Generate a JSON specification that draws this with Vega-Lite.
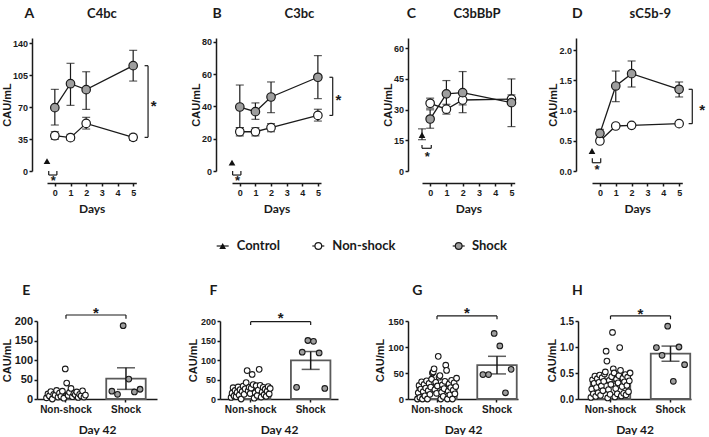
{
"$schema": "https://vega.github.io/schema/vega-lite/v6.json",
"padding": {"left": 1, "top": 6, "right": 0, "bottom": 0},
"background": "white",
"config": {
  "view": {"stroke": null},
  "font": "Liberation Sans",
  "axis": {"grid": false, "domainColor": "#1a1a1a", "domainWidth": 1.5, "tickColor": "#1a1a1a", "tickWidth": 1.5, "tickSize": 3,
           "labelFont": "Liberation Sans", "labelFontWeight": "bold", "labelColor": "#1a1a1a", "labelPadding": 1.5, "labelFlush": false, "labelOverlap": false,
           "titleFont": "Liberation Sans", "titleFontWeight": "bold", "titleColor": "#1a1a1a", "titleFontSize": 11},
  "axisY": {"titlePadding": 2},
  "text": {"color": "#1a1a1a"}
},
"datasets": {
  "series": [
    {"panel":"A","group":"Non-shock","day":0,"mean":38.6,"lo":34.6,"hi":43},
    {"panel":"A","group":"Non-shock","day":1,"mean":36.5,"lo":33.5,"hi":40.1},
    {"panel":"A","group":"Non-shock","day":2,"mean":52.1,"lo":45.9,"hi":58.7},
    {"panel":"A","group":"Non-shock","day":5,"mean":36.8,"lo":33.5,"hi":40.1},
    {"panel":"A","group":"Shock","day":0,"mean":69.3,"lo":50.3,"hi":89.3},
    {"panel":"A","group":"Shock","day":1,"mean":95.5,"lo":71.8,"hi":117.8},
    {"panel":"A","group":"Shock","day":2,"mean":89,"lo":67.4,"hi":108.6},
    {"panel":"A","group":"Shock","day":5,"mean":115.2,"lo":98.4,"hi":132},
    {"panel":"B","group":"Non-shock","day":0,"mean":24.3,"lo":21.7,"hi":26.8},
    {"panel":"B","group":"Non-shock","day":1,"mean":24.3,"lo":21.7,"hi":26.8},
    {"panel":"B","group":"Non-shock","day":2,"mean":26.8,"lo":24.3,"hi":29.3},
    {"panel":"B","group":"Non-shock","day":5,"mean":34.4,"lo":30.9,"hi":38.2},
    {"panel":"B","group":"Shock","day":0,"mean":39.6,"lo":26.8,"hi":53.2},
    {"panel":"B","group":"Shock","day":1,"mean":36.7,"lo":32,"hi":42.1},
    {"panel":"B","group":"Shock","day":2,"mean":45.8,"lo":36.1,"hi":55.1},
    {"panel":"B","group":"Shock","day":5,"mean":58,"lo":44.8,"hi":71.4},
    {"panel":"C","group":"Non-shock","day":0,"mean":33.1,"lo":30.7,"hi":35.6},
    {"panel":"C","group":"Non-shock","day":1,"mean":30.2,"lo":27.8,"hi":32.6},
    {"panel":"C","group":"Non-shock","day":2,"mean":34.7,"lo":32.3,"hi":37.2},
    {"panel":"C","group":"Non-shock","day":5,"mean":35.1,"lo":33.1,"hi":37.2},
    {"panel":"C","group":"Shock","day":0,"mean":25.4,"lo":20.9,"hi":29.9},
    {"panel":"C","group":"Shock","day":1,"mean":37.7,"lo":31,"hi":44.2},
    {"panel":"C","group":"Shock","day":2,"mean":38.3,"lo":28.5,"hi":48.6},
    {"panel":"C","group":"Shock","day":5,"mean":33.4,"lo":21.7,"hi":45},
    {"panel":"D","group":"Non-shock","day":0,"mean":0.497,"lo":0.475,"hi":0.52},
    {"panel":"D","group":"Non-shock","day":1,"mean":0.746,"lo":0.725,"hi":0.765},
    {"panel":"D","group":"Non-shock","day":2,"mean":0.757,"lo":0.74,"hi":0.775},
    {"panel":"D","group":"Non-shock","day":5,"mean":0.785,"lo":0.77,"hi":0.8},
    {"panel":"D","group":"Shock","day":0,"mean":0.624,"lo":0.55,"hi":0.69},
    {"panel":"D","group":"Shock","day":1,"mean":1.409,"lo":1.149,"hi":1.657},
    {"panel":"D","group":"Shock","day":2,"mean":1.613,"lo":1.392,"hi":1.823},
    {"panel":"D","group":"Shock","day":5,"mean":1.354,"lo":1.227,"hi":1.475}
  ],
  "control": [
    {"panel":"A","mean":10.9,"lo":10.9,"hi":10.9},
    {"panel":"B","mean":5.2,"lo":5.2,"hi":5.2},
    {"panel":"C","mean":17.6,"lo":15.3,"hi":20.6},
    {"panel":"D","mean":0.331,"lo":0.331,"hi":0.331}
  ],
  "day42": [
    {"panel":"E","group":"Non-shock","id":1,"value":3},{"panel":"E","group":"Non-shock","id":2,"value":13},{"panel":"E","group":"Non-shock","id":3,"value":8},{"panel":"E","group":"Non-shock","id":4,"value":19},
    {"panel":"E","group":"Non-shock","id":5,"value":0},{"panel":"E","group":"Non-shock","id":6,"value":12},{"panel":"E","group":"Non-shock","id":7,"value":10},{"panel":"E","group":"Non-shock","id":8,"value":22},
    {"panel":"E","group":"Non-shock","id":9,"value":5},{"panel":"E","group":"Non-shock","id":10,"value":15},{"panel":"E","group":"Non-shock","id":11,"value":7},{"panel":"E","group":"Non-shock","id":12,"value":20},
    {"panel":"E","group":"Non-shock","id":13,"value":2},{"panel":"E","group":"Non-shock","id":14,"value":77},{"panel":"E","group":"Non-shock","id":15,"value":41},{"panel":"E","group":"Non-shock","id":16,"value":9},
    {"panel":"E","group":"Non-shock","id":17,"value":17},{"panel":"E","group":"Non-shock","id":18,"value":27},{"panel":"E","group":"Non-shock","id":19,"value":6},{"panel":"E","group":"Non-shock","id":20,"value":14},
    {"panel":"E","group":"Non-shock","id":21,"value":11},{"panel":"E","group":"Non-shock","id":22,"value":18},{"panel":"E","group":"Non-shock","id":23,"value":4},{"panel":"E","group":"Non-shock","id":24,"value":12},
    {"panel":"E","group":"Non-shock","id":25,"value":8},{"panel":"E","group":"Non-shock","id":26,"value":21},{"panel":"E","group":"Non-shock","id":27,"value":5},{"panel":"E","group":"Non-shock","id":28,"value":10},
    {"panel":"E","group":"Shock","id":1,"value":20},{"panel":"E","group":"Shock","id":2,"value":12},{"panel":"E","group":"Shock","id":3,"value":188},{"panel":"E","group":"Shock","id":4,"value":51},{"panel":"E","group":"Shock","id":5,"value":18},{"panel":"E","group":"Shock","id":6,"value":25},
    {"panel":"F","group":"Non-shock","id":1,"value":4},{"panel":"F","group":"Non-shock","id":2,"value":15},{"panel":"F","group":"Non-shock","id":3,"value":29},{"panel":"F","group":"Non-shock","id":4,"value":8},
    {"panel":"F","group":"Non-shock","id":5,"value":22},{"panel":"F","group":"Non-shock","id":6,"value":6},{"panel":"F","group":"Non-shock","id":7,"value":17},{"panel":"F","group":"Non-shock","id":8,"value":31},
    {"panel":"F","group":"Non-shock","id":9,"value":10},{"panel":"F","group":"Non-shock","id":10,"value":24},{"panel":"F","group":"Non-shock","id":11,"value":0},{"panel":"F","group":"Non-shock","id":12,"value":19},
    {"panel":"F","group":"Non-shock","id":13,"value":33},{"panel":"F","group":"Non-shock","id":14,"value":12},{"panel":"F","group":"Non-shock","id":15,"value":26},{"panel":"F","group":"Non-shock","id":16,"value":42},
    {"panel":"F","group":"Non-shock","id":17,"value":73},{"panel":"F","group":"Non-shock","id":18,"value":21},{"panel":"F","group":"Non-shock","id":19,"value":30},{"panel":"F","group":"Non-shock","id":20,"value":14},
    {"panel":"F","group":"Non-shock","id":21,"value":28},{"panel":"F","group":"Non-shock","id":22,"value":63},{"panel":"F","group":"Non-shock","id":23,"value":37},{"panel":"F","group":"Non-shock","id":24,"value":2},
    {"panel":"F","group":"Non-shock","id":25,"value":16},{"panel":"F","group":"Non-shock","id":26,"value":34},{"panel":"F","group":"Non-shock","id":27,"value":9},{"panel":"F","group":"Non-shock","id":28,"value":23},
    {"panel":"F","group":"Non-shock","id":29,"value":76},{"panel":"F","group":"Non-shock","id":30,"value":35},{"panel":"F","group":"Non-shock","id":31,"value":5},{"panel":"F","group":"Non-shock","id":32,"value":18},
    {"panel":"F","group":"Non-shock","id":33,"value":30},{"panel":"F","group":"Non-shock","id":34,"value":11},{"panel":"F","group":"Non-shock","id":35,"value":25},{"panel":"F","group":"Non-shock","id":36,"value":7},
    {"panel":"F","group":"Non-shock","id":37,"value":20},{"panel":"F","group":"Non-shock","id":38,"value":32},{"panel":"F","group":"Non-shock","id":39,"value":13},{"panel":"F","group":"Non-shock","id":40,"value":27},
    {"panel":"F","group":"Shock","id":1,"value":30},{"panel":"F","group":"Shock","id":2,"value":120},{"panel":"F","group":"Shock","id":3,"value":150},{"panel":"F","group":"Shock","id":4,"value":148},{"panel":"F","group":"Shock","id":5,"value":118},{"panel":"F","group":"Shock","id":6,"value":27},
    {"panel":"G","group":"Non-shock","id":1,"value":0},{"panel":"G","group":"Non-shock","id":2,"value":12},{"panel":"G","group":"Non-shock","id":3,"value":26},{"panel":"G","group":"Non-shock","id":4,"value":3},
    {"panel":"G","group":"Non-shock","id":5,"value":19},{"panel":"G","group":"Non-shock","id":6,"value":33},{"panel":"G","group":"Non-shock","id":7,"value":0},{"panel":"G","group":"Non-shock","id":8,"value":14},
    {"panel":"G","group":"Non-shock","id":9,"value":28},{"panel":"G","group":"Non-shock","id":10,"value":6},{"panel":"G","group":"Non-shock","id":11,"value":21},{"panel":"G","group":"Non-shock","id":12,"value":35},
    {"panel":"G","group":"Non-shock","id":13,"value":0},{"panel":"G","group":"Non-shock","id":14,"value":16},{"panel":"G","group":"Non-shock","id":15,"value":30},{"panel":"G","group":"Non-shock","id":16,"value":9},
    {"panel":"G","group":"Non-shock","id":17,"value":23},{"panel":"G","group":"Non-shock","id":18,"value":38},{"panel":"G","group":"Non-shock","id":19,"value":50},{"panel":"G","group":"Non-shock","id":20,"value":52},
    {"panel":"G","group":"Non-shock","id":21,"value":58},{"panel":"G","group":"Non-shock","id":22,"value":18},{"panel":"G","group":"Non-shock","id":23,"value":32},{"panel":"G","group":"Non-shock","id":24,"value":11},
    {"panel":"G","group":"Non-shock","id":25,"value":25},{"panel":"G","group":"Non-shock","id":26,"value":82},{"panel":"G","group":"Non-shock","id":27,"value":42},{"panel":"G","group":"Non-shock","id":28,"value":45},
    {"panel":"G","group":"Non-shock","id":29,"value":0},{"panel":"G","group":"Non-shock","id":30,"value":13},{"panel":"G","group":"Non-shock","id":31,"value":27},{"panel":"G","group":"Non-shock","id":32,"value":5},
    {"panel":"G","group":"Non-shock","id":33,"value":20},{"panel":"G","group":"Non-shock","id":34,"value":34},{"panel":"G","group":"Non-shock","id":35,"value":65},{"panel":"G","group":"Non-shock","id":36,"value":55},
    {"panel":"G","group":"Non-shock","id":37,"value":0},{"panel":"G","group":"Non-shock","id":38,"value":15},{"panel":"G","group":"Non-shock","id":39,"value":29},{"panel":"G","group":"Non-shock","id":40,"value":8},
    {"panel":"G","group":"Non-shock","id":41,"value":22},{"panel":"G","group":"Non-shock","id":42,"value":36},{"panel":"G","group":"Non-shock","id":43,"value":0},{"panel":"G","group":"Non-shock","id":44,"value":17},
    {"panel":"G","group":"Non-shock","id":45,"value":31},{"panel":"G","group":"Non-shock","id":46,"value":10},{"panel":"G","group":"Non-shock","id":47,"value":24},{"panel":"G","group":"Non-shock","id":48,"value":40},
    {"panel":"G","group":"Shock","id":1,"value":47},{"panel":"G","group":"Shock","id":2,"value":47},{"panel":"G","group":"Shock","id":3,"value":126},{"panel":"G","group":"Shock","id":4,"value":102},{"panel":"G","group":"Shock","id":5,"value":12},{"panel":"G","group":"Shock","id":6,"value":57},
    {"panel":"H","group":"Non-shock","id":1,"value":0.03},{"panel":"H","group":"Non-shock","id":2,"value":0.19},{"panel":"H","group":"Non-shock","id":3,"value":0.37},{"panel":"H","group":"Non-shock","id":4,"value":0.10},
    {"panel":"H","group":"Non-shock","id":5,"value":0.30},{"panel":"H","group":"Non-shock","id":6,"value":0.44},{"panel":"H","group":"Non-shock","id":7,"value":0.05},{"panel":"H","group":"Non-shock","id":8,"value":0.22},
    {"panel":"H","group":"Non-shock","id":9,"value":0.39},{"panel":"H","group":"Non-shock","id":10,"value":0.12},{"panel":"H","group":"Non-shock","id":11,"value":0.32},{"panel":"H","group":"Non-shock","id":12,"value":0.46},
    {"panel":"H","group":"Non-shock","id":13,"value":0.07},{"panel":"H","group":"Non-shock","id":14,"value":0.25},{"panel":"H","group":"Non-shock","id":15,"value":0.41},{"panel":"H","group":"Non-shock","id":16,"value":0.16},
    {"panel":"H","group":"Non-shock","id":17,"value":0.34},{"panel":"H","group":"Non-shock","id":18,"value":0.48},{"panel":"H","group":"Non-shock","id":19,"value":0.52},{"panel":"H","group":"Non-shock","id":20,"value":0.92},
    {"panel":"H","group":"Non-shock","id":21,"value":0.73},{"panel":"H","group":"Non-shock","id":22,"value":0.02},{"panel":"H","group":"Non-shock","id":23,"value":0.18},{"panel":"H","group":"Non-shock","id":24,"value":0.36},
    {"panel":"H","group":"Non-shock","id":25,"value":0.09},{"panel":"H","group":"Non-shock","id":26,"value":0.28},{"panel":"H","group":"Non-shock","id":27,"value":0.43},{"panel":"H","group":"Non-shock","id":28,"value":1.28},
    {"panel":"H","group":"Non-shock","id":29,"value":0.58},{"panel":"H","group":"Non-shock","id":30,"value":0.50},{"panel":"H","group":"Non-shock","id":31,"value":0.04},{"panel":"H","group":"Non-shock","id":32,"value":0.20},
    {"panel":"H","group":"Non-shock","id":33,"value":0.38},{"panel":"H","group":"Non-shock","id":34,"value":0.10},{"panel":"H","group":"Non-shock","id":35,"value":0.31},{"panel":"H","group":"Non-shock","id":36,"value":0.45},
    {"panel":"H","group":"Non-shock","id":37,"value":0.99},{"panel":"H","group":"Non-shock","id":38,"value":0.55},{"panel":"H","group":"Non-shock","id":39,"value":0.06},{"panel":"H","group":"Non-shock","id":40,"value":0.24},
    {"panel":"H","group":"Non-shock","id":41,"value":0.40},{"panel":"H","group":"Non-shock","id":42,"value":0.11},{"panel":"H","group":"Non-shock","id":43,"value":0.33},{"panel":"H","group":"Non-shock","id":44,"value":0.47},
    {"panel":"H","group":"Non-shock","id":45,"value":0.08},{"panel":"H","group":"Non-shock","id":46,"value":0.26},{"panel":"H","group":"Non-shock","id":47,"value":0.42},{"panel":"H","group":"Non-shock","id":48,"value":0.14},
    {"panel":"H","group":"Non-shock","id":49,"value":0.35},{"panel":"H","group":"Non-shock","id":50,"value":0.50},
    {"panel":"H","group":"Shock","id":1,"value":0.99},{"panel":"H","group":"Shock","id":2,"value":0.84},{"panel":"H","group":"Shock","id":3,"value":1.40},{"panel":"H","group":"Shock","id":4,"value":0.34},{"panel":"H","group":"Shock","id":5,"value":1.00},{"panel":"H","group":"Shock","id":6,"value":0.66}
  ]
},
"columns": 4,
"bounds": "flush",
"align": "each",
"spacing": {"row": 65, "column": 0},
"concat": [
  {
    "width": 182.3, "height": 133,
    "data": {"name": "control"},
    "transform": [{"filter": "datum.panel == 'A'"}],
    "layer": [
      {"data": {"name": "series"}, "transform": [{"filter": "datum.panel == 'A'"}],
       "mark": {"type": "rule", "color": "#1a1a1a", "strokeWidth": 1.2},
       "encoding": {
         "x": {"field": "day", "type": "quantitative", "scale": {"domain": [-0.5, 5.2], "range": [10, 99.3], "nice": false, "zero": false},
               "axis": {"values": [0,1,2,3,4,5], "tickCount": 20, "format": "d", "offset": 12, "title": "Days", "titleFont": "Lato", "titleFontSize": 12, "titlePadding": 6, "labelFontSize": 9, "labelPadding": 2, "labelOverlap": false}},
         "y": {"field": "lo", "type": "quantitative", "title": "CAU/mL", "scale": {"domain": [0, 145.5], "nice": false, "zero": false},
               "axis": {"values": [0,35,70,105,140], "tickCount": 20, "offset": 5, "title": "CAU/mL", "titlePadding": 0, "labelFontSize": 9, "labelOverlap": false}},
         "y2": {"field": "hi"}}},
      {"data": {"name": "series"}, "transform": [{"filter": "datum.panel == 'A'"}],
       "mark": {"type": "tick", "orient": "horizontal", "size": 8, "thickness": 1.2, "color": "#1a1a1a"},
       "encoding": {"x": {"field": "day", "type": "quantitative"}, "y": {"field": "lo", "type": "quantitative", "title": "CAU/mL"}}},
      {"data": {"name": "series"}, "transform": [{"filter": "datum.panel == 'A'"}],
       "mark": {"type": "tick", "orient": "horizontal", "size": 8, "thickness": 1.2, "color": "#1a1a1a"},
       "encoding": {"x": {"field": "day", "type": "quantitative"}, "y": {"field": "hi", "type": "quantitative", "title": "CAU/mL"}}},
      {"data": {"name": "series"}, "transform": [{"filter": "datum.panel == 'A'"}],
       "mark": {"type": "line", "color": "#1a1a1a", "strokeWidth": 1.3},
       "encoding": {"x": {"field": "day", "type": "quantitative"}, "y": {"field": "mean", "type": "quantitative", "title": "CAU/mL"}, "detail": {"field": "group", "type": "nominal"}}},
      {"data": {"name": "series"}, "transform": [{"filter": "datum.panel == 'A'"}],
       "mark": {"type": "circle", "size": 72, "stroke": "#1a1a1a", "strokeWidth": 1.2, "opacity": 1},
       "encoding": {"x": {"field": "day", "type": "quantitative"}, "y": {"field": "mean", "type": "quantitative", "title": "CAU/mL"},
                    "fill": {"field": "group", "type": "nominal", "scale": {"domain": ["Non-shock", "Shock"], "range": ["#ffffff", "#9e9e9e"]}, "legend": null}}},
      {"mark": {"type": "point", "shape": "triangle-up", "filled": true, "color": "#111111", "size": 45, "opacity": 1},
       "encoding": {"x": {"datum": -0.5, "type": "quantitative"}, "y": {"field": "mean", "type": "quantitative", "title": "CAU/mL"}}},
      {"mark": {"type": "rule", "color": "#1a1a1a", "strokeWidth": 1.2},
       "encoding": {"x": {"datum": -0.39, "type": "quantitative"}, "x2": {"datum": 0.13}, "y": {"datum": -4.4, "type": "quantitative"}}},
      {"mark": {"type": "rule", "color": "#1a1a1a", "strokeWidth": 1.2},
       "encoding": {"x": {"datum": -0.39, "type": "quantitative"}, "y": {"datum": -4.4, "type": "quantitative"}, "y2": {"datum": 0}}},
      {"mark": {"type": "rule", "color": "#1a1a1a", "strokeWidth": 1.2},
       "encoding": {"x": {"datum": 0.13, "type": "quantitative"}, "y": {"datum": -4.4, "type": "quantitative"}, "y2": {"datum": 0}}},
      {"mark": {"type": "text", "text": "*", "fontSize": 13, "fontWeight": "bold", "align": "center", "baseline": "middle", "dy": 2},
       "encoding": {"x": {"datum": -0.1, "type": "quantitative"}, "y": {"datum": -8.4, "type": "quantitative"}}},
      {"data": {"name": "series"}, "transform": [{"filter": "datum.panel == 'A' && datum.day == 5"}],
       "mark": {"type": "rule", "color": "#1a1a1a", "strokeWidth": 1.2},
       "encoding": {"x": {"datum": 5.73, "type": "quantitative"}, "x2": {"datum": 5.95}, "y": {"field": "mean", "type": "quantitative"}}},
      {"data": {"name": "series"}, "transform": [{"filter": "datum.panel == 'A' && datum.day == 5"}],
       "mark": {"type": "rule", "color": "#1a1a1a", "strokeWidth": 1.2},
       "encoding": {"x": {"datum": 5.95, "type": "quantitative"}, "y": {"aggregate": "min", "field": "mean", "type": "quantitative"}, "y2": {"aggregate": "max", "field": "mean"}}},
      {"data": {"name": "series"}, "transform": [{"filter": "datum.panel == 'A' && datum.day == 5"}],
       "mark": {"type": "text", "text": "*", "fontSize": 15, "fontWeight": "bold", "align": "center", "baseline": "middle", "dy": 4},
       "encoding": {"x": {"datum": 6.31, "type": "quantitative"}, "y": {"aggregate": "mean", "field": "mean", "type": "quantitative"}}},
      {"mark": {"type": "text", "text": "A", "font": "Lato", "fontSize": 14, "fontWeight": "bold", "align": "center", "baseline": "middle"},
       "encoding": {"x": {"datum": -1.63, "type": "quantitative"}, "y": {"datum": 171.7, "type": "quantitative"}}},
      {"mark": {"type": "text", "text": "C4bc", "font": "Lato", "fontSize": 13, "fontWeight": "bold", "align": "center", "baseline": "middle"},
       "encoding": {"x": {"datum": 3.01, "type": "quantitative"}, "y": {"datum": 171.7, "type": "quantitative"}}}
    ]
  },
  {
    "width": 187.7, "height": 133,
    "data": {"name": "control"},
    "transform": [{"filter": "datum.panel == 'B'"}],
    "layer": [
      {"data": {"name": "series"}, "transform": [{"filter": "datum.panel == 'B'"}],
       "mark": {"type": "rule", "color": "#1a1a1a", "strokeWidth": 1.2},
       "encoding": {
         "x": {"field": "day", "type": "quantitative", "scale": {"domain": [-0.5, 5.2], "range": [12, 101], "nice": false, "zero": false},
               "axis": {"values": [0,1,2,3,4,5], "tickCount": 20, "format": "d", "offset": 12, "title": "Days", "titleFont": "Lato", "titleFontSize": 12, "titlePadding": 6, "labelFontSize": 9, "labelPadding": 2, "labelOverlap": false}},
         "y": {"field": "lo", "type": "quantitative", "title": "CAU/mL", "scale": {"domain": [0, 82.3], "nice": false, "zero": false},
               "axis": {"values": [0,20,40,60,80], "tickCount": 20, "offset": 4, "title": "CAU/mL", "titlePadding": 0, "labelFontSize": 9, "labelOverlap": false}},
         "y2": {"field": "hi"}}},
      {"data": {"name": "series"}, "transform": [{"filter": "datum.panel == 'B'"}],
       "mark": {"type": "tick", "orient": "horizontal", "size": 8, "thickness": 1.2, "color": "#1a1a1a"},
       "encoding": {"x": {"field": "day", "type": "quantitative"}, "y": {"field": "lo", "type": "quantitative", "title": "CAU/mL"}}},
      {"data": {"name": "series"}, "transform": [{"filter": "datum.panel == 'B'"}],
       "mark": {"type": "tick", "orient": "horizontal", "size": 8, "thickness": 1.2, "color": "#1a1a1a"},
       "encoding": {"x": {"field": "day", "type": "quantitative"}, "y": {"field": "hi", "type": "quantitative", "title": "CAU/mL"}}},
      {"data": {"name": "series"}, "transform": [{"filter": "datum.panel == 'B'"}],
       "mark": {"type": "line", "color": "#1a1a1a", "strokeWidth": 1.3},
       "encoding": {"x": {"field": "day", "type": "quantitative"}, "y": {"field": "mean", "type": "quantitative", "title": "CAU/mL"}, "detail": {"field": "group", "type": "nominal"}}},
      {"data": {"name": "series"}, "transform": [{"filter": "datum.panel == 'B'"}],
       "mark": {"type": "circle", "size": 72, "stroke": "#1a1a1a", "strokeWidth": 1.2, "opacity": 1},
       "encoding": {"x": {"field": "day", "type": "quantitative"}, "y": {"field": "mean", "type": "quantitative", "title": "CAU/mL"},
                    "fill": {"field": "group", "type": "nominal", "scale": {"domain": ["Non-shock", "Shock"], "range": ["#ffffff", "#9e9e9e"]}, "legend": null}}},
      {"mark": {"type": "point", "shape": "triangle-up", "filled": true, "color": "#111111", "size": 45, "opacity": 1},
       "encoding": {"x": {"datum": -0.5, "type": "quantitative"}, "y": {"field": "mean", "type": "quantitative", "title": "CAU/mL"}}},
      {"mark": {"type": "rule", "color": "#1a1a1a", "strokeWidth": 1.2},
       "encoding": {"x": {"datum": -0.46, "type": "quantitative"}, "x2": {"datum": 0.07}, "y": {"datum": -2.5, "type": "quantitative"}}},
      {"mark": {"type": "rule", "color": "#1a1a1a", "strokeWidth": 1.2},
       "encoding": {"x": {"datum": -0.46, "type": "quantitative"}, "y": {"datum": -2.5, "type": "quantitative"}, "y2": {"datum": 0}}},
      {"mark": {"type": "rule", "color": "#1a1a1a", "strokeWidth": 1.2},
       "encoding": {"x": {"datum": 0.07, "type": "quantitative"}, "y": {"datum": -2.5, "type": "quantitative"}, "y2": {"datum": 0}}},
      {"mark": {"type": "text", "text": "*", "fontSize": 13, "fontWeight": "bold", "align": "center", "baseline": "middle", "dy": 2},
       "encoding": {"x": {"datum": -0.14, "type": "quantitative"}, "y": {"datum": -5.1, "type": "quantitative"}}},
      {"data": {"name": "series"}, "transform": [{"filter": "datum.panel == 'B' && datum.day == 5"}],
       "mark": {"type": "rule", "color": "#1a1a1a", "strokeWidth": 1.2},
       "encoding": {"x": {"datum": 5.74, "type": "quantitative"}, "x2": {"datum": 5.95}, "y": {"field": "mean", "type": "quantitative"}}},
      {"data": {"name": "series"}, "transform": [{"filter": "datum.panel == 'B' && datum.day == 5"}],
       "mark": {"type": "rule", "color": "#1a1a1a", "strokeWidth": 1.2},
       "encoding": {"x": {"datum": 5.95, "type": "quantitative"}, "y": {"aggregate": "min", "field": "mean", "type": "quantitative"}, "y2": {"aggregate": "max", "field": "mean"}}},
      {"data": {"name": "series"}, "transform": [{"filter": "datum.panel == 'B' && datum.day == 5"}],
       "mark": {"type": "text", "text": "*", "fontSize": 15, "fontWeight": "bold", "align": "center", "baseline": "middle", "dy": 4},
       "encoding": {"x": {"datum": 6.32, "type": "quantitative"}, "y": {"aggregate": "mean", "field": "mean", "type": "quantitative"}}},
      {"mark": {"type": "text", "text": "B", "font": "Lato", "fontSize": 14, "fontWeight": "bold", "align": "center", "baseline": "middle"},
       "encoding": {"x": {"datum": -1.46, "type": "quantitative"}, "y": {"datum": 97.2, "type": "quantitative"}}},
      {"mark": {"type": "text", "text": "C3bc", "font": "Lato", "fontSize": 13, "fontWeight": "bold", "align": "center", "baseline": "middle"},
       "encoding": {"x": {"datum": 3.82, "type": "quantitative"}, "y": {"datum": 97.2, "type": "quantitative"}}}
    ]
  },
  {
    "width": 170, "height": 133,
    "data": {"name": "control"},
    "transform": [{"filter": "datum.panel == 'C'"}],
    "layer": [
      {"data": {"name": "series"}, "transform": [{"filter": "datum.panel == 'C'"}],
       "mark": {"type": "rule", "color": "#1a1a1a", "strokeWidth": 1.2},
       "encoding": {
         "x": {"field": "day", "type": "quantitative", "scale": {"domain": [-0.5, 5.2], "range": [14, 106.7], "nice": false, "zero": false},
               "axis": {"values": [0,1,2,3,4,5], "tickCount": 20, "format": "d", "offset": 12, "title": "Days", "titleFont": "Lato", "titleFontSize": 12, "titlePadding": 6, "labelFontSize": 9, "labelPadding": 2, "labelOverlap": false}},
         "y": {"field": "lo", "type": "quantitative", "title": "CAU/mL", "scale": {"domain": [0, 65], "nice": false, "zero": false},
               "axis": {"values": [0,15,30,45,60], "tickCount": 20, "offset": 0, "title": "CAU/mL", "titlePadding": 0, "labelFontSize": 9, "labelOverlap": false}},
         "y2": {"field": "hi"}}},
      {"data": {"name": "series"}, "transform": [{"filter": "datum.panel == 'C'"}],
       "mark": {"type": "tick", "orient": "horizontal", "size": 8, "thickness": 1.2, "color": "#1a1a1a"},
       "encoding": {"x": {"field": "day", "type": "quantitative"}, "y": {"field": "lo", "type": "quantitative", "title": "CAU/mL"}}},
      {"data": {"name": "series"}, "transform": [{"filter": "datum.panel == 'C'"}],
       "mark": {"type": "tick", "orient": "horizontal", "size": 8, "thickness": 1.2, "color": "#1a1a1a"},
       "encoding": {"x": {"field": "day", "type": "quantitative"}, "y": {"field": "hi", "type": "quantitative", "title": "CAU/mL"}}},
      {"data": {"name": "series"}, "transform": [{"filter": "datum.panel == 'C'"}],
       "mark": {"type": "line", "color": "#1a1a1a", "strokeWidth": 1.3},
       "encoding": {"x": {"field": "day", "type": "quantitative"}, "y": {"field": "mean", "type": "quantitative", "title": "CAU/mL"}, "detail": {"field": "group", "type": "nominal"}}},
      {"data": {"name": "series"}, "transform": [{"filter": "datum.panel == 'C'"}],
       "mark": {"type": "circle", "size": 72, "stroke": "#1a1a1a", "strokeWidth": 1.2, "opacity": 1},
       "encoding": {"x": {"field": "day", "type": "quantitative"}, "y": {"field": "mean", "type": "quantitative", "title": "CAU/mL"},
                    "fill": {"field": "group", "type": "nominal", "scale": {"domain": ["Non-shock", "Shock"], "range": ["#ffffff", "#9e9e9e"]}, "legend": null}}},
      {"mark": {"type": "rule", "color": "#1a1a1a", "strokeWidth": 1.2},
       "encoding": {"x": {"datum": -0.5, "type": "quantitative"}, "y": {"field": "lo", "type": "quantitative", "title": "CAU/mL"}, "y2": {"field": "hi"}}},
      {"mark": {"type": "tick", "orient": "horizontal", "size": 8, "thickness": 1.2, "color": "#1a1a1a"},
       "encoding": {"x": {"datum": -0.5, "type": "quantitative"}, "y": {"field": "hi", "type": "quantitative", "title": "CAU/mL"}}},
      {"mark": {"type": "tick", "orient": "horizontal", "size": 8, "thickness": 1.2, "color": "#1a1a1a"},
       "encoding": {"x": {"datum": -0.5, "type": "quantitative"}, "y": {"field": "lo", "type": "quantitative", "title": "CAU/mL"}}},
      {"mark": {"type": "point", "shape": "triangle-up", "filled": true, "color": "#111111", "size": 45, "opacity": 1},
       "encoding": {"x": {"datum": -0.5, "type": "quantitative"}, "y": {"field": "mean", "type": "quantitative", "title": "CAU/mL"}}},
      {"mark": {"type": "rule", "color": "#1a1a1a", "strokeWidth": 1.2},
       "encoding": {"x": {"datum": -0.5, "type": "quantitative"}, "x2": {"datum": 0.07}, "y": {"datum": 11.1, "type": "quantitative"}}},
      {"mark": {"type": "rule", "color": "#1a1a1a", "strokeWidth": 1.2},
       "encoding": {"x": {"datum": -0.5, "type": "quantitative"}, "y": {"datum": 11.1, "type": "quantitative"}, "y2": {"datum": 12.7}}},
      {"mark": {"type": "rule", "color": "#1a1a1a", "strokeWidth": 1.2},
       "encoding": {"x": {"datum": 0.07, "type": "quantitative"}, "y": {"datum": 11.1, "type": "quantitative"}, "y2": {"datum": 12.7}}},
      {"mark": {"type": "text", "text": "*", "fontSize": 13, "fontWeight": "bold", "align": "center", "baseline": "middle", "dy": 2},
       "encoding": {"x": {"datum": -0.17, "type": "quantitative"}, "y": {"datum": 7.8, "type": "quantitative"}}},
      {"mark": {"type": "text", "text": "C", "font": "Lato", "fontSize": 14, "fontWeight": "bold", "align": "center", "baseline": "middle"},
       "encoding": {"x": {"datum": -1.16, "type": "quantitative"}, "y": {"datum": 76.7, "type": "quantitative"}}},
      {"mark": {"type": "text", "text": "C3bBbP", "font": "Lato", "fontSize": 13, "fontWeight": "bold", "align": "center", "baseline": "middle"},
       "encoding": {"x": {"datum": 2.88, "type": "quantitative"}, "y": {"datum": 76.7, "type": "quantitative"}}}
    ]
  },
  {
    "width": 125, "height": 133,
    "data": {"name": "control"},
    "transform": [{"filter": "datum.panel == 'D'"}],
    "layer": [
      {"data": {"name": "series"}, "transform": [{"filter": "datum.panel == 'D'"}],
       "mark": {"type": "rule", "color": "#1a1a1a", "strokeWidth": 1.2},
       "encoding": {
         "x": {"field": "day", "type": "quantitative", "scale": {"domain": [-0.5, 5.2], "range": [14, 104.3], "nice": false, "zero": false},
               "axis": {"values": [0,1,2,3,4,5], "tickCount": 20, "format": "d", "offset": 12, "title": "Days", "titleFont": "Lato", "titleFontSize": 12, "titlePadding": 6, "labelFontSize": 9, "labelPadding": 2, "labelOverlap": false}},
         "y": {"field": "lo", "type": "quantitative", "title": "CAU/mL", "scale": {"domain": [0, 2.204], "nice": false, "zero": false},
               "axis": {"values": [0,0.5,1,1.5,2], "tickCount": 20, "format": ".1f", "offset": 2, "title": "CAU/mL", "titlePadding": 0, "labelFontSize": 9, "labelOverlap": false}},
         "y2": {"field": "hi"}}},
      {"data": {"name": "series"}, "transform": [{"filter": "datum.panel == 'D'"}],
       "mark": {"type": "tick", "orient": "horizontal", "size": 8, "thickness": 1.2, "color": "#1a1a1a"},
       "encoding": {"x": {"field": "day", "type": "quantitative"}, "y": {"field": "lo", "type": "quantitative", "title": "CAU/mL"}}},
      {"data": {"name": "series"}, "transform": [{"filter": "datum.panel == 'D'"}],
       "mark": {"type": "tick", "orient": "horizontal", "size": 8, "thickness": 1.2, "color": "#1a1a1a"},
       "encoding": {"x": {"field": "day", "type": "quantitative"}, "y": {"field": "hi", "type": "quantitative", "title": "CAU/mL"}}},
      {"data": {"name": "series"}, "transform": [{"filter": "datum.panel == 'D'"}],
       "mark": {"type": "line", "color": "#1a1a1a", "strokeWidth": 1.3},
       "encoding": {"x": {"field": "day", "type": "quantitative"}, "y": {"field": "mean", "type": "quantitative", "title": "CAU/mL"}, "detail": {"field": "group", "type": "nominal"}}},
      {"data": {"name": "series"}, "transform": [{"filter": "datum.panel == 'D'"}],
       "mark": {"type": "circle", "size": 72, "stroke": "#1a1a1a", "strokeWidth": 1.2, "opacity": 1},
       "encoding": {"x": {"field": "day", "type": "quantitative"}, "y": {"field": "mean", "type": "quantitative", "title": "CAU/mL"},
                    "fill": {"field": "group", "type": "nominal", "scale": {"domain": ["Non-shock", "Shock"], "range": ["#ffffff", "#9e9e9e"]}, "legend": null}}},
      {"mark": {"type": "point", "shape": "triangle-up", "filled": true, "color": "#111111", "size": 45, "opacity": 1},
       "encoding": {"x": {"datum": -0.5, "type": "quantitative"}, "y": {"field": "mean", "type": "quantitative", "title": "CAU/mL"}}},
      {"mark": {"type": "rule", "color": "#1a1a1a", "strokeWidth": 1.2},
       "encoding": {"x": {"datum": -0.48, "type": "quantitative"}, "x2": {"datum": 0.05}, "y": {"datum": 0.137, "type": "quantitative"}}},
      {"mark": {"type": "rule", "color": "#1a1a1a", "strokeWidth": 1.2},
       "encoding": {"x": {"datum": -0.48, "type": "quantitative"}, "y": {"datum": 0.137, "type": "quantitative"}, "y2": {"datum": 0.21}}},
      {"mark": {"type": "rule", "color": "#1a1a1a", "strokeWidth": 1.2},
       "encoding": {"x": {"datum": 0.05, "type": "quantitative"}, "y": {"datum": 0.137, "type": "quantitative"}, "y2": {"datum": 0.21}}},
      {"mark": {"type": "text", "text": "*", "fontSize": 13, "fontWeight": "bold", "align": "center", "baseline": "middle", "dy": 2},
       "encoding": {"x": {"datum": -0.18, "type": "quantitative"}, "y": {"datum": 0.055, "type": "quantitative"}}},
      {"data": {"name": "series"}, "transform": [{"filter": "datum.panel == 'D' && datum.day == 5"}],
       "mark": {"type": "rule", "color": "#1a1a1a", "strokeWidth": 1.2},
       "encoding": {"x": {"datum": 5.6, "type": "quantitative"}, "x2": {"datum": 5.83}, "y": {"field": "mean", "type": "quantitative"}}},
      {"data": {"name": "series"}, "transform": [{"filter": "datum.panel == 'D' && datum.day == 5"}],
       "mark": {"type": "rule", "color": "#1a1a1a", "strokeWidth": 1.2},
       "encoding": {"x": {"datum": 5.83, "type": "quantitative"}, "y": {"aggregate": "min", "field": "mean", "type": "quantitative"}, "y2": {"aggregate": "max", "field": "mean"}}},
      {"data": {"name": "series"}, "transform": [{"filter": "datum.panel == 'D' && datum.day == 5"}],
       "mark": {"type": "text", "text": "*", "fontSize": 15, "fontWeight": "bold", "align": "center", "baseline": "middle", "dy": 4},
       "encoding": {"x": {"datum": 6.46, "type": "quantitative"}, "y": {"aggregate": "mean", "field": "mean", "type": "quantitative"}}},
      {"mark": {"type": "text", "text": "D", "font": "Lato", "fontSize": 14, "fontWeight": "bold", "align": "center", "baseline": "middle"},
       "encoding": {"x": {"datum": -1.43, "type": "quantitative"}, "y": {"datum": 2.6, "type": "quantitative"}}},
      {"mark": {"type": "text", "text": "sC5b-9", "font": "Lato", "fontSize": 13, "fontWeight": "bold", "align": "center", "baseline": "middle"},
       "encoding": {"x": {"datum": 3.18, "type": "quantitative"}, "y": {"datum": 2.6, "type": "quantitative"}}}
    ]
  },
  {"width": 1, "height": 20, "data": {"values": [{"k": 1}]}, "mark": {"type": "point", "opacity": 0}},
  {
    "width": 101, "height": 20,
    "data": {"values": [{"group": "Control"}, {"group": "Non-shock"}]},
    "encoding": {"x": {"field": "group", "type": "nominal", "scale": {"type": "point", "padding": 0.028}, "axis": null}},
    "layer": [
      {"mark": {"type": "point", "shape": "stroke", "size": 144, "stroke": "#1a1a1a", "strokeWidth": 1.2, "opacity": 1}},
      {"transform": [{"filter": "datum.group == 'Control'"}], "mark": {"type": "point", "shape": "triangle-up", "filled": true, "color": "#111111", "size": 45, "opacity": 1}},
      {"transform": [{"filter": "datum.group == 'Non-shock'"}], "mark": {"type": "circle", "size": 45, "fill": "#ffffff", "stroke": "#1a1a1a", "strokeWidth": 1.2, "opacity": 1}},
      {"mark": {"type": "text", "align": "left", "dx": 14, "font": "Lato", "fontSize": 13, "fontWeight": "bold", "baseline": "middle"}, "encoding": {"text": {"field": "group"}}}
    ]
  },
  {
    "width": 101.4, "height": 20,
    "data": {"values": [{"group": "Shock"}]},
    "encoding": {"x": {"field": "group", "type": "nominal", "scale": {"type": "point"}, "axis": null}},
    "layer": [
      {"mark": {"type": "point", "shape": "stroke", "size": 144, "stroke": "#1a1a1a", "strokeWidth": 1.2, "opacity": 1}},
      {"mark": {"type": "circle", "size": 45, "fill": "#9e9e9e", "stroke": "#1a1a1a", "strokeWidth": 1.2, "opacity": 1}},
      {"mark": {"type": "text", "align": "left", "dx": 13.3, "font": "Lato", "fontSize": 13, "fontWeight": "bold", "baseline": "middle"}, "encoding": {"text": {"field": "group"}}}
    ]
  },
  {"width": 1, "height": 20, "data": {"values": [{"k": 1}]}, "mark": {"type": "point", "opacity": 0}},
  {
    "width": 120, "height": 78,
    "data": {"name": "day42"},
    "transform": [{"filter": "datum.panel == 'E'"}],
    "resolve": {"scale": {"xOffset": "independent"}},
    "layer": [
      {"mark": {"type": "bar", "fill": "#ffffff", "stroke": "#5a5a5a", "strokeWidth": 1.8},
       "encoding": {
         "x": {"field": "group", "type": "nominal", "title": "Day 42", "scale": {"type": "band", "paddingInner": 0.342, "paddingOuter": 0.171, "align": 0.45},
               "axis": {"title": "Day 42", "labelAngle": 0, "labelFontSize": 10, "labelPadding": 2, "titleFont": "Lato", "titleFontSize": 12, "titlePadding": 10, "labelOverlap": false}},
         "y": {"aggregate": "mean", "field": "value", "type": "quantitative", "title": "CAU/mL", "scale": {"domain": [0, 200], "nice": false},
               "axis": {"values": [0,50,100,150,200], "tickCount": 20, "title": "CAU/mL", "labelFontSize": 11, "labelOverlap": false}}}},
      {"mark": {"type": "errorbar", "extent": "stderr", "ticks": {"size": 18, "thickness": 1.5, "color": "#1a1a1a"}, "rule": {"strokeWidth": 1.5, "color": "#1a1a1a"}},
       "encoding": {"x": {"field": "group", "type": "nominal", "title": "Day 42"}, "y": {"field": "value", "type": "quantitative", "title": "CAU/mL"}}},
      {"transform": [{"filter": "datum.group == 'Non-shock'"}],
       "mark": {"type": "circle", "size": 32, "fill": "#ffffff", "stroke": "#1a1a1a", "strokeWidth": 1.1, "opacity": 1},
       "encoding": {"x": {"field": "group", "type": "nominal", "title": "Day 42"}, "xOffset": {"field": "id", "type": "ordinal", "scale": {"type": "point", "padding": 0.2}}, "y": {"field": "value", "type": "quantitative", "title": "CAU/mL"}}},
      {"transform": [{"filter": "datum.group == 'Shock'"}],
       "mark": {"type": "circle", "size": 32, "fill": "#9e9e9e", "stroke": "#1a1a1a", "strokeWidth": 1.1, "opacity": 1},
       "encoding": {"x": {"field": "group", "type": "nominal", "title": "Day 42"}, "xOffset": {"field": "id", "type": "ordinal", "scale": {"type": "point", "padding": 2.45}}, "y": {"field": "value", "type": "quantitative", "title": "CAU/mL"}}},
      {"transform": [{"aggregate": [{"op": "count", "as": "n"}]}],
       "mark": {"type": "rule", "color": "#1a1a1a", "strokeWidth": 1.2},
       "encoding": {"x": {"datum": "Non-shock", "type": "nominal"}, "x2": {"datum": "Shock"}, "y": {"datum": 215.4, "type": "quantitative"}}},
      {"transform": [{"aggregate": [{"op": "count", "as": "n"}], "groupby": ["group"]}],
       "mark": {"type": "rule", "color": "#1a1a1a", "strokeWidth": 1.2},
       "encoding": {"x": {"field": "group", "type": "nominal", "title": "Day 42"}, "y": {"datum": 215.4, "type": "quantitative"}, "y2": {"datum": 205.9}}},
      {"transform": [{"aggregate": [{"op": "count", "as": "n"}]}],
       "mark": {"type": "text", "text": "*", "fontSize": 15, "fontWeight": "bold", "align": "center", "baseline": "middle", "dx": 30, "dy": 4},
       "encoding": {"x": {"datum": "Non-shock", "type": "nominal"}, "y": {"datum": 230, "type": "quantitative"}}},
      {"transform": [{"aggregate": [{"op": "count", "as": "n"}]}],
       "mark": {"type": "text", "text": "E", "font": "Lato", "fontSize": 14, "fontWeight": "bold", "align": "center", "baseline": "middle", "dx": -39.7},
       "encoding": {"x": {"datum": "Non-shock", "type": "nominal"}, "y": {"datum": 277, "type": "quantitative"}}}
    ]
  },
  {
    "width": 118, "height": 78,
    "data": {"name": "day42"},
    "transform": [{"filter": "datum.panel == 'F'"}],
    "resolve": {"scale": {"xOffset": "independent"}},
    "layer": [
      {"mark": {"type": "bar", "fill": "#ffffff", "stroke": "#5a5a5a", "strokeWidth": 1.8},
       "encoding": {
         "x": {"field": "group", "type": "nominal", "title": "Day 42", "scale": {"type": "band", "paddingInner": 0.342, "paddingOuter": 0.154, "align": 0.59},
               "axis": {"title": "Day 42", "labelAngle": 0, "labelFontSize": 10, "labelPadding": 2, "titleFont": "Lato", "titleFontSize": 12, "titlePadding": 10, "labelOverlap": false}},
         "y": {"aggregate": "mean", "field": "value", "type": "quantitative", "title": "CAU/mL", "scale": {"domain": [0, 200], "nice": false},
               "axis": {"values": [0,50,100,150,200], "tickCount": 20, "title": "CAU/mL", "labelFontSize": 9, "labelOverlap": false}}}},
      {"mark": {"type": "errorbar", "extent": "stderr", "ticks": {"size": 18, "thickness": 1.5, "color": "#1a1a1a"}, "rule": {"strokeWidth": 1.5, "color": "#1a1a1a"}},
       "encoding": {"x": {"field": "group", "type": "nominal", "title": "Day 42"}, "y": {"field": "value", "type": "quantitative", "title": "CAU/mL"}}},
      {"transform": [{"filter": "datum.group == 'Non-shock'"}],
       "mark": {"type": "circle", "size": 32, "fill": "#ffffff", "stroke": "#1a1a1a", "strokeWidth": 1.1, "opacity": 1},
       "encoding": {"x": {"field": "group", "type": "nominal", "title": "Day 42"}, "xOffset": {"field": "id", "type": "ordinal", "scale": {"type": "point", "padding": 0.2}}, "y": {"field": "value", "type": "quantitative", "title": "CAU/mL"}}},
      {"transform": [{"filter": "datum.group == 'Shock'"}],
       "mark": {"type": "circle", "size": 32, "fill": "#9e9e9e", "stroke": "#1a1a1a", "strokeWidth": 1.1, "opacity": 1},
       "encoding": {"x": {"field": "group", "type": "nominal", "title": "Day 42"}, "xOffset": {"field": "id", "type": "ordinal", "scale": {"type": "point", "padding": 2.45}}, "y": {"field": "value", "type": "quantitative", "title": "CAU/mL"}}},
      {"transform": [{"aggregate": [{"op": "count", "as": "n"}]}],
       "mark": {"type": "rule", "color": "#1a1a1a", "strokeWidth": 1.2},
       "encoding": {"x": {"datum": "Non-shock", "type": "nominal"}, "x2": {"datum": "Shock"}, "y": {"datum": 198.2, "type": "quantitative"}}},
      {"transform": [{"aggregate": [{"op": "count", "as": "n"}], "groupby": ["group"]}],
       "mark": {"type": "rule", "color": "#1a1a1a", "strokeWidth": 1.2},
       "encoding": {"x": {"field": "group", "type": "nominal", "title": "Day 42"}, "y": {"datum": 198.2, "type": "quantitative"}, "y2": {"datum": 189.7}}},
      {"transform": [{"aggregate": [{"op": "count", "as": "n"}]}],
       "mark": {"type": "text", "text": "*", "fontSize": 15, "fontWeight": "bold", "align": "center", "baseline": "middle", "dx": 30, "dy": 4},
       "encoding": {"x": {"datum": "Non-shock", "type": "nominal"}, "y": {"datum": 217.2, "type": "quantitative"}}},
      {"transform": [{"aggregate": [{"op": "count", "as": "n"}]}],
       "mark": {"type": "text", "text": "F", "font": "Lato", "fontSize": 14, "fontWeight": "bold", "align": "center", "baseline": "middle", "dx": -37.3},
       "encoding": {"x": {"datum": "Non-shock", "type": "nominal"}, "y": {"datum": 277, "type": "quantitative"}}}
    ]
  },
  {
    "width": 110, "height": 78,
    "data": {"name": "day42"},
    "transform": [{"filter": "datum.panel == 'G'"}],
    "resolve": {"scale": {"xOffset": "independent"}},
    "layer": [
      {"mark": {"type": "bar", "fill": "#ffffff", "stroke": "#5a5a5a", "strokeWidth": 1.8},
       "encoding": {
         "x": {"field": "group", "type": "nominal", "title": "Day 42", "scale": {"type": "band", "paddingInner": 0.342, "paddingOuter": 0.0877, "align": 0.88},
               "axis": {"title": "Day 42", "labelAngle": 0, "labelFontSize": 10, "labelPadding": 2, "titleFont": "Lato", "titleFontSize": 12, "titlePadding": 10, "labelOverlap": false}},
         "y": {"aggregate": "mean", "field": "value", "type": "quantitative", "title": "CAU/mL", "scale": {"domain": [0, 150], "nice": false},
               "axis": {"values": [0,50,100,150], "tickCount": 20, "title": "CAU/mL", "labelFontSize": 9.5, "labelOverlap": false}}}},
      {"mark": {"type": "errorbar", "extent": "stderr", "ticks": {"size": 18, "thickness": 1.5, "color": "#1a1a1a"}, "rule": {"strokeWidth": 1.5, "color": "#1a1a1a"}},
       "encoding": {"x": {"field": "group", "type": "nominal", "title": "Day 42"}, "y": {"field": "value", "type": "quantitative", "title": "CAU/mL"}}},
      {"transform": [{"filter": "datum.group == 'Non-shock'"}],
       "mark": {"type": "circle", "size": 32, "fill": "#ffffff", "stroke": "#1a1a1a", "strokeWidth": 1.1, "opacity": 1},
       "encoding": {"x": {"field": "group", "type": "nominal", "title": "Day 42"}, "xOffset": {"field": "id", "type": "ordinal", "scale": {"type": "point", "padding": 0.2}}, "y": {"field": "value", "type": "quantitative", "title": "CAU/mL"}}},
      {"transform": [{"filter": "datum.group == 'Shock'"}],
       "mark": {"type": "circle", "size": 32, "fill": "#9e9e9e", "stroke": "#1a1a1a", "strokeWidth": 1.1, "opacity": 1},
       "encoding": {"x": {"field": "group", "type": "nominal", "title": "Day 42"}, "xOffset": {"field": "id", "type": "ordinal", "scale": {"type": "point", "padding": 2.45}}, "y": {"field": "value", "type": "quantitative", "title": "CAU/mL"}}},
      {"transform": [{"aggregate": [{"op": "count", "as": "n"}]}],
       "mark": {"type": "rule", "color": "#1a1a1a", "strokeWidth": 1.2},
       "encoding": {"x": {"datum": "Non-shock", "type": "nominal"}, "x2": {"datum": "Shock"}, "y": {"datum": 159.7, "type": "quantitative"}}},
      {"transform": [{"aggregate": [{"op": "count", "as": "n"}], "groupby": ["group"]}],
       "mark": {"type": "rule", "color": "#1a1a1a", "strokeWidth": 1.2},
       "encoding": {"x": {"field": "group", "type": "nominal", "title": "Day 42"}, "y": {"datum": 159.7, "type": "quantitative"}, "y2": {"datum": 153.3}}},
      {"transform": [{"aggregate": [{"op": "count", "as": "n"}]}],
       "mark": {"type": "text", "text": "*", "fontSize": 15, "fontWeight": "bold", "align": "center", "baseline": "middle", "dx": 30, "dy": 4},
       "encoding": {"x": {"datum": "Non-shock", "type": "nominal"}, "y": {"datum": 172.6, "type": "quantitative"}}},
      {"transform": [{"aggregate": [{"op": "count", "as": "n"}]}],
       "mark": {"type": "text", "text": "G", "font": "Lato", "fontSize": 14, "fontWeight": "bold", "align": "center", "baseline": "middle", "dx": -19.7},
       "encoding": {"x": {"datum": "Non-shock", "type": "nominal"}, "y": {"datum": 207.9, "type": "quantitative"}}}
    ]
  },
  {
    "width": 113, "height": 78,
    "data": {"name": "day42"},
    "transform": [{"filter": "datum.panel == 'H'"}],
    "resolve": {"scale": {"xOffset": "independent"}},
    "layer": [
      {"mark": {"type": "bar", "fill": "#ffffff", "stroke": "#5a5a5a", "strokeWidth": 1.8},
       "encoding": {
         "x": {"field": "group", "type": "nominal", "title": "Day 42", "scale": {"type": "band", "paddingInner": 0.342, "paddingOuter": 0.1127, "align": 0.944},
               "axis": {"title": "Day 42", "labelAngle": 0, "labelFontSize": 10, "labelPadding": 2, "titleFont": "Lato", "titleFontSize": 12, "titlePadding": 10, "labelOverlap": false}},
         "y": {"aggregate": "mean", "field": "value", "type": "quantitative", "title": "CAU/mL", "scale": {"domain": [0, 1.5], "nice": false},
               "axis": {"values": [0,0.5,1,1.5], "tickCount": 20, "format": ".1f", "title": "CAU/mL", "labelFontSize": 10, "labelOverlap": false}}}},
      {"mark": {"type": "errorbar", "extent": "stderr", "ticks": {"size": 18, "thickness": 1.5, "color": "#1a1a1a"}, "rule": {"strokeWidth": 1.5, "color": "#1a1a1a"}},
       "encoding": {"x": {"field": "group", "type": "nominal", "title": "Day 42"}, "y": {"field": "value", "type": "quantitative", "title": "CAU/mL"}}},
      {"transform": [{"filter": "datum.group == 'Non-shock'"}],
       "mark": {"type": "circle", "size": 32, "fill": "#ffffff", "stroke": "#1a1a1a", "strokeWidth": 1.1, "opacity": 1},
       "encoding": {"x": {"field": "group", "type": "nominal", "title": "Day 42"}, "xOffset": {"field": "id", "type": "ordinal", "scale": {"type": "point", "padding": 0.2}}, "y": {"field": "value", "type": "quantitative", "title": "CAU/mL"}}},
      {"transform": [{"filter": "datum.group == 'Shock'"}],
       "mark": {"type": "circle", "size": 32, "fill": "#9e9e9e", "stroke": "#1a1a1a", "strokeWidth": 1.1, "opacity": 1},
       "encoding": {"x": {"field": "group", "type": "nominal", "title": "Day 42"}, "xOffset": {"field": "id", "type": "ordinal", "scale": {"type": "point", "padding": 2.45}}, "y": {"field": "value", "type": "quantitative", "title": "CAU/mL"}}},
      {"transform": [{"aggregate": [{"op": "count", "as": "n"}]}],
       "mark": {"type": "rule", "color": "#1a1a1a", "strokeWidth": 1.2},
       "encoding": {"x": {"datum": "Non-shock", "type": "nominal"}, "x2": {"datum": "Shock"}, "y": {"datum": 1.597, "type": "quantitative"}}},
      {"transform": [{"aggregate": [{"op": "count", "as": "n"}], "groupby": ["group"]}],
       "mark": {"type": "rule", "color": "#1a1a1a", "strokeWidth": 1.2},
       "encoding": {"x": {"field": "group", "type": "nominal", "title": "Day 42"}, "y": {"datum": 1.597, "type": "quantitative"}, "y2": {"datum": 1.533}}},
      {"transform": [{"aggregate": [{"op": "count", "as": "n"}]}],
       "mark": {"type": "text", "text": "*", "fontSize": 15, "fontWeight": "bold", "align": "center", "baseline": "middle", "dx": 30, "dy": 4},
       "encoding": {"x": {"datum": "Non-shock", "type": "nominal"}, "y": {"datum": 1.707, "type": "quantitative"}}},
      {"transform": [{"aggregate": [{"op": "count", "as": "n"}]}],
       "mark": {"type": "text", "text": "H", "font": "Lato", "fontSize": 14, "fontWeight": "bold", "align": "center", "baseline": "middle", "dx": -33.2},
       "encoding": {"x": {"datum": "Non-shock", "type": "nominal"}, "y": {"datum": 2.08, "type": "quantitative"}}}
    ]
  }
]
}
